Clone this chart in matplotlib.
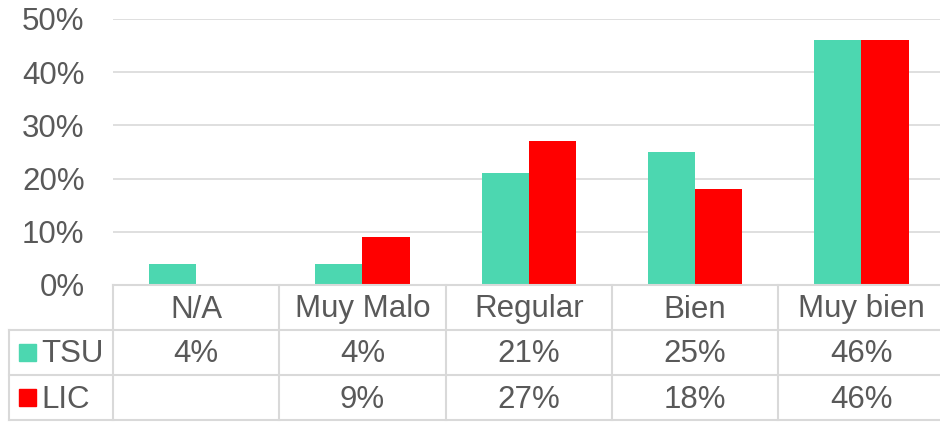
import numpy as np
import matplotlib.pyplot as plt
from matplotlib.patches import Rectangle

plt.rcParams['font.family'] = ['Liberation Sans', 'DejaVu Sans']

categories = ["N/A", "Muy Malo", "Regular", "Bien", "Muy bien"]
series = ["TSU", "LIC"]
tsu = [4, 4, 21, 25, 46]
lic = [np.nan, 9, 27, 18, 46]
tsu_labels = ["4%", "4%", "21%", "25%", "46%"]
lic_labels = ["", "9%", "27%", "18%", "46%"]
yticks = [0, 10, 20, 30, 40, 50]

colors = ["#4CD7B0", "#FF0000"]
text_col = "#595959"
line_col = "#D9D9D9"
fs = 22.5

W, H = 940, 422
fig = plt.figure(figsize=(W / 100, H / 100), dpi=100)

# pixel geometry of plot area
x0, x1 = 113, 944.5
y_top, y_bot = 19, 285
ax = fig.add_axes([x0 / W, 1 - y_bot / H, (x1 - x0) / W, (y_bot - y_top) / H])

x = np.arange(len(categories))
bw = 0.284
ax.bar(x - bw / 2, tsu, bw, color=colors[0], zorder=3)
ax.bar(x + bw / 2, lic, bw, color=colors[1], zorder=3)

ax.set_xlim(-0.5, len(categories) - 0.5)
ax.set_ylim(0, 50)
ax.set_yticks(yticks)
ax.set_yticklabels([f"{v}%" for v in yticks], color=text_col, fontsize=fs)
ax.tick_params(axis='y', length=0, pad=20.5)
ax.set_xticks([])
ax.grid(axis='y', color=line_col, linewidth=1.2, zorder=0)
for s in ax.spines.values():
    s.set_visible(False)


def fx(px):
    return px / W


def fy(py):
    return 1 - py / H


# data table
col_w = (x1 - x0) / len(categories)
rows = [285, 330, 375, 420]
lw = 1.5
dy = 2  # text sits a little below the row middle
fig.add_artist(plt.Line2D([fx(x0), 1], [fy(rows[0])] * 2, color=line_col, lw=lw))
for r in rows[1:]:
    fig.add_artist(plt.Line2D([fx(9), 1], [fy(r)] * 2, color=line_col, lw=lw))
for i in range(len(categories)):
    bx = x0 + i * col_w
    fig.add_artist(plt.Line2D([fx(bx)] * 2, [fy(rows[0]), fy(rows[3])], color=line_col, lw=lw))
fig.add_artist(plt.Line2D([fx(9)] * 2, [fy(rows[1]), fy(rows[3])], color=line_col, lw=lw))

for i, cat in enumerate(categories):
    cx = x0 + (i + 0.5) * col_w
    fig.text(fx(cx), fy((rows[0] + rows[1]) / 2 + dy), cat, ha='center', va='center',
             color=text_col, fontsize=fs)
    fig.text(fx(cx), fy((rows[1] + rows[2]) / 2 + dy), tsu_labels[i], ha='center', va='center',
             color=text_col, fontsize=fs)
    fig.text(fx(cx), fy((rows[2] + rows[3]) / 2 + dy), lic_labels[i], ha='center', va='center',
             color=text_col, fontsize=fs)

for j, name in enumerate(series):
    yc = (rows[j + 1] + rows[j + 2]) / 2
    fig.add_artist(Rectangle((fx(19), fy(yc + 8.5)), 17 / W, 17 / H, color=colors[j],
                             transform=fig.transFigure))
    fig.text(fx(41), fy(yc + dy), name, ha='left', va='center', color=text_col, fontsize=fs)

fig.savefig("out.png", dpi=100)
